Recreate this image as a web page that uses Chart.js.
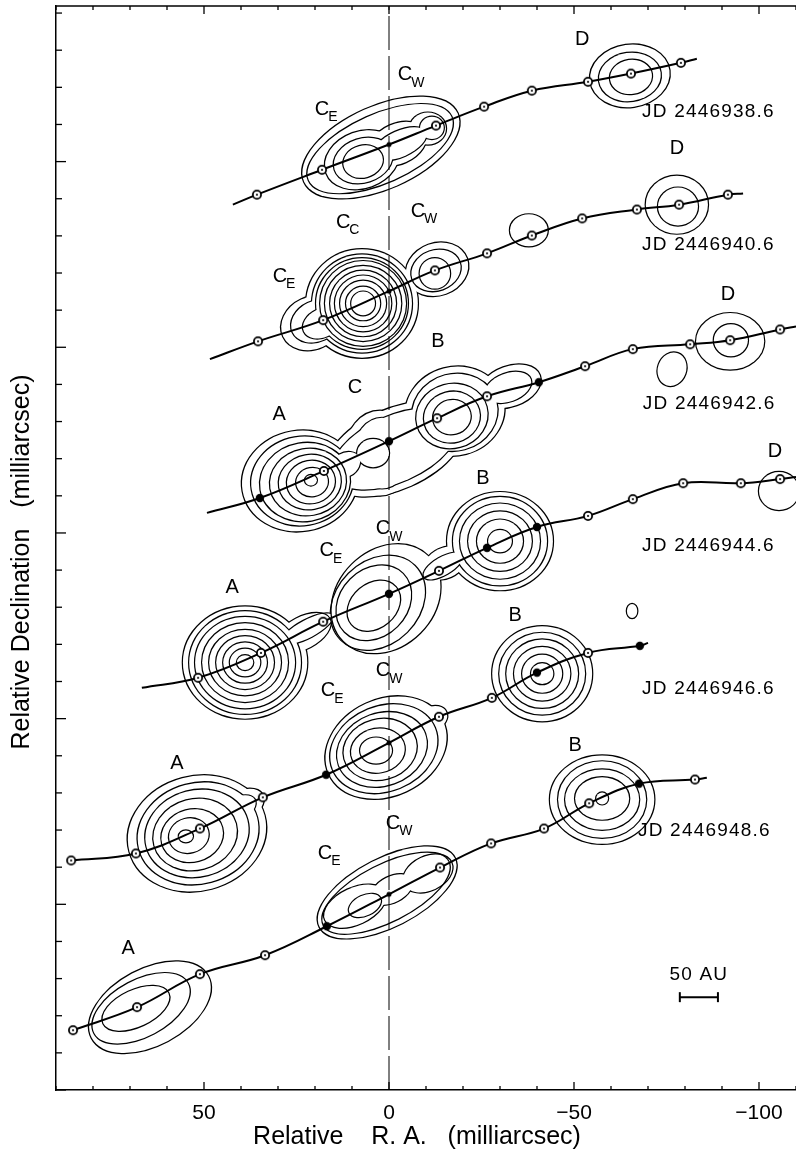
<!DOCTYPE html>
<html>
<head>
<meta charset="utf-8">
<title>VLBI maps of the jet, six epochs</title>
<script src="https://cdn.jsdelivr.net/npm/chart.js@4.4.1/dist/chart.umd.min.js"></script>
<style>
  html, body { margin: 0; padding: 0; background: #fff; overflow: hidden; }
  #box { width: 796px; height: 1151px; overflow: hidden; }
  #chart { display: block; }
</style>
</head>
<body>
<div id="box"><canvas id="chart" width="807" height="1151"></canvas></div>
<script>
const FONT = '"Liberation Sans", Arial, Helvetica, sans-serif';

// axis ranges (milliarcsec)
const raMin = -110, raMax = 90;
const decMin = 0, decMax = 291.9;

// kinematic model track of each epoch: R.A., Dec, marker ('o' ring, 'f' filled, 's' core dot, '' none)
const ra938 = [42.2, 35.7, 18.1, 0, -12.7, -25.7, -38.6, -53.8, -65.4, -78.9, -83.2];
const de938 = [238.4, 241.1, 247.8, 254.6, 259.7, 264.8, 269.1, 271.5, 273.7, 276.6, 277.7];
const mk938 = ['', 'o', 'o', 's', 'o', 'o', 'o', 'o', 'o', 'o', ''];

const ra940 = [48.4, 35.4, 17.8, 0, -12.4, -26.5, -38.6, -52.2, -67.0, -78.4, -91.6, -95.7];
const de940 = [196.8, 201.6, 207.3, 215.1, 220.7, 225.3, 230.1, 234.7, 237.1, 238.4, 241.1, 241.4];
const mk940 = ['', 'o', 'o', 's', 'o', 'o', 'o', 'o', 'o', 'o', 'o', ''];

const ra942 = [49.2, 34.9, 17.6, 0, -13.0, -26.5, -40.5, -53.0, -65.9, -81.4, -92.2, -105.7, -110];
const de942 = [155.4, 159.4, 166.7, 174.7, 180.9, 186.8, 190.6, 194.9, 199.5, 200.8, 201.9, 204.8, 205.6];
const mk942 = ['', 'f', 'o', 'f', 'o', 'o', 'f', 'o', 'o', 'o', 'o', 'o', ''];

const ra944 = [66.8, 51.6, 34.6, 17.8, 0, -13.5, -26.5, -40.0, -53.8, -65.9, -79.5, -95.1, -105.7, -110];
const de944 = [108.3, 111.0, 117.7, 126.1, 133.6, 139.8, 146.0, 151.6, 154.6, 159.1, 163.4, 163.4, 164.5, 165.1];
const mk944 = ['', 'o', 'o', 'o', 'f', 'o', 'f', 'f', 'o', 'o', 'o', 'o', 'o', ''];

const ra946 = [85.9, 68.4, 51.1, 34.1, 17.0, 0, -13.5, -27.8, -40.0, -53.8, -67.8, -70.0];
const de946 = [61.8, 63.7, 70.4, 78.8, 84.9, 93.5, 100.5, 105.6, 112.4, 117.7, 119.6, 120.4];
const mk946 = ['o', 'o', 'o', 'o', 'f', 's', 'o', 'o', 'f', 'o', 'f', ''];

const ra948 = [85.4, 68.1, 51.1, 33.5, 16.8, 0, -13.8, -27.6, -41.9, -54.1, -67.6, -82.7, -85.9];
const de948 = [16.1, 22.3, 31.2, 36.3, 44.1, 52.7, 59.9, 66.4, 70.4, 77.2, 82.5, 83.6, 84.1];
const mk948 = ['o', 'o', 'o', 'o', 'f', 's', 'o', 'o', 'o', 'o', 'f', 'o', ''];

// contour levels: [level id, R.A., Dec, semi-major, semi-minor (mas), tilt deg]
// pieces sharing a level id are merged into one contour
const cont938 = [
  [1, 2.2, 253.8, 22.7, 11.1, 24],
  [2, 2.4, 253.5, 21.1, 9.2, 24],
  [3, 7.3, 250.5, 10.3, 7.6, 20], [3, -10.5, 258.9, 4.9, 4.3, 0], [3, -2.4, 254.8, 8.1, 5.4, 24],
  [4, 7.0, 250.3, 8.1, 5.9, 18], [4, -11.6, 259.1, 3.2, 3.0, 0], [4, -3.0, 254.8, 7.6, 3.5, 24],
  [5, 7.0, 250.0, 5.4, 4.3, 15],
  [6, -65.1, 273.1, 10.8, 8.4, 8], [7, -65.1, 272.8, 8.4, 6.5, 8], [8, -65.4, 272.8, 5.7, 4.6, 8]
];
const cont940 = [
  [1, 7.3, 211.8, 15.1, 14.6, 0], [1, 20.8, 206.5, 8.6, 7.0, 25], [1, -13.0, 221.0, 8.6, 7.0, 20],
  [2, 7.3, 211.8, 13.5, 13.2, 0], [2, 19.7, 207.0, 7.0, 5.4, 25], [2, -12.7, 220.7, 6.8, 5.4, 20],
  [3, 7.3, 211.8, 12.4, 12.2, 0], [3, 18.1, 206.5, 5.4, 3.8, 25],
  [4, 7.0, 211.8, 11.6, 11.4, 0], [5, 7.0, 211.8, 10.3, 10.1, 0], [6, 7.0, 211.8, 8.9, 8.8, 0],
  [7, 7.0, 211.8, 7.6, 7.5, 0], [8, 7.0, 211.8, 6.2, 6.1, 0], [9, 7.0, 211.8, 4.6, 4.5, 0],
  [10, 7.0, 211.8, 3.2, 3.2, 0],
  [11, -12.4, 219.9, 4.1, 4.1, 0],
  [12, -37.8, 231.5, 5.1, 4.3, 0],
  [13, -77.8, 238.4, 8.4, 7.8, 0], [14, -78.1, 237.9, 5.4, 5.1, 0]
];
const cont942 = [
  [1, 24.1, 164.0, 15.7, 13.5, 10], [1, 2.4, 171.5, 9.5, 11.4, 0], [1, -17.8, 182.8, 13.5, 11.9, 15],
  [1, -32.7, 189.5, 8.6, 5.4, 20], [1, -1.6, 172.6, 20.0, 10.8, 24],
  [2, 23.5, 164.0, 13.8, 11.9, 10], [2, 1.9, 171.5, 7.6, 9.5, 0], [2, -17.8, 182.5, 11.6, 10.3, 15],
  [2, -32.2, 189.2, 6.5, 3.8, 20], [2, -1.6, 172.6, 18.0, 8.9, 24],
  [3, 22.7, 163.7, 12.2, 10.5, 10], [3, 11.9, 168.3, 4.3, 3.2, 30], [3, 4.3, 171.5, 4.3, 3.8, 0],
  [4, -17.0, 181.5, 9.7, 8.6, 15], [5, -17.0, 181.2, 7.6, 6.8, 15], [6, -17.0, 181.2, 5.1, 4.6, 15],
  [7, 21.9, 163.7, 10.3, 8.9, 10], [8, 21.4, 163.7, 8.4, 7.3, 10], [9, 21.1, 163.7, 6.5, 5.7, 10],
  [10, 20.8, 163.7, 4.3, 3.8, 10], [11, 21.1, 164.2, 1.6, 1.4, 0],
  [12, -92.2, 201.6, 9.2, 7.6, 0], [13, -92.4, 201.9, 4.6, 4.3, 0],
  [14, -76.5, 194.1, 4.6, 3.8, 70]
];
const cont944 = [
  [1, 38.9, 115.1, 16.8, 15.1, 0], [1, 23.2, 123.1, 8.1, 4.3, 28], [1, 0.8, 132.3, 16.2, 13.0, 45],
  [1, -15.1, 141.9, 5.9, 4.1, 25], [1, -30.0, 147.8, 14.3, 13.2, 0],
  [2, 38.9, 115.1, 15.1, 13.8, 0], [2, 22.0, 124.2, 7.6, 2.4, 28], [2, 3.0, 131.2, 14.1, 11.1, 45],
  [2, -14.6, 141.1, 5.9, 2.4, 30], [2, -30.0, 147.8, 12.7, 11.9, 0],
  [3, 4.1, 131.2, 11.1, 8.9, 45], [4, 4.1, 130.4, 7.8, 5.9, 40],
  [5, 38.9, 115.1, 13.5, 12.3, 0], [6, 38.9, 115.1, 11.6, 10.6, 0], [7, 38.9, 115.1, 9.7, 8.8, 0],
  [8, 38.9, 115.1, 7.8, 7.1, 0], [9, 38.9, 115.1, 5.9, 5.4, 0], [10, 38.9, 115.1, 4.1, 3.7, 0],
  [11, 38.9, 115.1, 2.2, 2.0, 0],
  [12, -30.0, 147.8, 10.8, 10.1, 0], [13, -30.0, 147.8, 8.6, 8.0, 0], [14, -30.0, 147.8, 6.2, 5.8, 0],
  [15, -30.0, 147.8, 3.2, 3.0, 0],
  [16, -65.7, 129.0, 1.4, 1.9, 0],
  [17, -105.4, 161.3, 5.4, 5.1, 0]
];
const cont946 = [
  [1, 51.9, 69.1, 18.9, 15.4, 15], [1, 40.8, 75.8, 7.6, 4.3, 30],
  [2, 51.6, 69.1, 16.5, 13.5, 15], [2, 41.4, 75.3, 5.9, 3.2, 30],
  [3, 51.9, 69.1, 14.1, 11.6, 15], [4, 52.4, 68.8, 11.4, 9.5, 15], [5, 53.2, 68.5, 8.4, 7.0, 15],
  [6, 54.1, 68.5, 5.4, 4.6, 15], [7, 54.9, 68.3, 1.9, 1.6, 0],
  [8, 0.8, 92.2, 17.0, 13.0, 25], [8, -11.6, 100.0, 4.3, 3.2, 25],
  [9, 1.4, 91.9, 14.9, 11.4, 22], [10, 1.9, 91.7, 12.4, 9.7, 20], [11, 2.4, 91.7, 10.0, 8.1, 15],
  [12, 3.0, 91.4, 7.3, 5.9, 10], [13, 3.5, 91.4, 4.3, 3.5, 0],
  [14, -41.4, 112.1, 13.5, 12.8, 0], [15, -41.4, 112.1, 11.6, 11.0, 0], [16, -41.4, 112.1, 9.7, 9.2, 0],
  [17, -41.4, 112.1, 7.6, 7.2, 0], [18, -41.4, 112.1, 5.4, 5.1, 0], [19, -41.4, 112.1, 3.0, 2.8, 0]
];
const cont948 = [
  [1, 64.6, 22.3, 17.8, 10.3, 28], [2, 67.0, 22.0, 14.3, 7.6, 28], [3, 68.4, 22.0, 9.7, 4.9, 25],
  [4, 0.5, 53.2, 20.5, 9.2, 27], [5, 0.8, 53.0, 18.9, 7.6, 27],
  [6, 9.2, 49.5, 8.9, 4.9, 25], [6, -10.5, 58.3, 7.0, 4.6, 25], [6, -0.8, 54.0, 5.9, 3.5, 27],
  [7, 6.5, 49.7, 4.6, 2.7, 25],
  [8, -57.6, 78.2, 14.1, 11.9, 0], [9, -57.6, 78.2, 11.9, 10.3, 0], [10, -57.6, 78.2, 10.0, 8.1, 0],
  [11, -57.6, 78.5, 7.3, 5.7, 0], [12, -57.6, 78.5, 1.6, 1.6, 0]
];

// component names: [letter, subscript, R.A., Dec]
const compLabels = [
  ['D', '', -52.2, 282.8], ['C', 'W', -4.3, 273.4], ['C', 'E', 18.1, 264.0],
  ['D', '', -77.8, 253.5], ['C', 'C', 12.4, 233.6], ['C', 'W', -7.8, 236.6], ['C', 'E', 29.5, 219.1],
  ['B', '', -13.2, 201.6], ['C', '', 9.2, 189.2], ['A', '', 29.7, 182.0], ['D', '', -91.6, 214.2],
  ['B', '', -25.4, 164.8], ['C', 'W', 1.6, 151.1], ['C', 'E', 16.8, 145.2], ['A', '', 42.4, 135.2], ['D', '', -104.3, 172.0],
  ['B', '', -34.1, 127.7], ['C', 'W', 1.6, 112.9], ['C', 'E', 16.5, 107.5], ['A', '', 57.3, 87.9],
  ['B', '', -50.3, 92.7], ['C', 'W', -1.1, 71.8], ['C', 'E', 17.3, 63.7], ['A', '', 70.5, 38.2]
];

// epoch labels
const jdText = ['JD 2446938.6', 'JD 2446940.6', 'JD 2446942.6', 'JD 2446944.6', 'JD 2446946.6', 'JD 2446948.6'];
const jdRA = [-68.4, -68.4, -68.6, -68.4, -68.4, -67.3];
const jdDec = [263.4, 227.7, 184.9, 146.5, 108.1, 69.9];

// 50 AU scale bar
const barRA = [-78.6, -88.9];
const barDec = 25.0;
const barText = '50 AU';
const barTextDec = 30.9;

const tracks = [
  [ra938, de938, mk938], [ra940, de940, mk940], [ra942, de942, mk942],
  [ra944, de944, mk944], [ra946, de946, mk946], [ra948, de948, mk948]
];
const contourSets = [cont938, cont940, cont942, cont944, cont946, cont948];

function markImage(kind) {
  const c = document.createElement('canvas');
  c.width = c.height = 14;
  const g = c.getContext('2d');
  g.beginPath();
  g.arc(7, 7, kind === 's' ? 2.5 : (kind === 'f' ? 4.2 : 4.1), 0, 2 * Math.PI);
  if (kind === 'o') {
    g.fillStyle = '#fff'; g.fill();
    g.lineWidth = 1.8; g.strokeStyle = '#000'; g.stroke();
    g.beginPath(); g.arc(7, 7, 1.1, 0, 2 * Math.PI);
    g.fillStyle = '#000'; g.fill();
  } else {
    g.fillStyle = '#000'; g.fill();
  }
  return c;
}
const marks = { o: markImage('o'), f: markImage('f'), s: markImage('s') };

const datasets = tracks.map(t => ({
  data: t[0].map((v, i) => ({ x: v, y: t[1][i] })),
  showLine: true,
  borderColor: '#000',
  borderWidth: 2,
  tension: 0.4,
  pointStyle: t[2].map(k => marks[k] || 'circle'),
  pointRadius: t[2].map(k => (k ? 4 : 0)),
  pointHoverRadius: 0
}));

// reference line at R.A. = 0
datasets.unshift({
  data: [{ x: 0, y: decMin }, { x: 0, y: decMax }],
  showLine: true,
  borderColor: '#000',
  borderWidth: 1,
  borderDash: [34, 6],
  pointRadius: 0
});

const contourPlugin = {
  id: 'contours',
  beforeDatasetsDraw(chart) {
    const { ctx, chartArea: a, scales: { x, y } } = chart;
    const kx = Math.abs(x.getPixelForValue(1) - x.getPixelForValue(0));
    const ky = Math.abs(y.getPixelForValue(1) - y.getPixelForValue(0));
    const off = document.createElement('canvas');
    off.width = chart.canvas.width;
    off.height = chart.canvas.height;
    const o = off.getContext('2d');
    const dpr = chart.currentDevicePixelRatio;
    const shape = e => {
      o.beginPath();
      o.ellipse(x.getPixelForValue(e[1]), y.getPixelForValue(e[2]), e[3] * kx, e[4] * ky,
        -e[5] * Math.PI / 180, 0, 2 * Math.PI);
    };
    ctx.save();
    ctx.beginPath();
    ctx.rect(a.left, a.top, a.right - a.left, a.bottom - a.top);
    ctx.clip();
    contourSets.forEach(set => {
      const levels = new Map();
      set.forEach(e => {
        if (!levels.has(e[0])) levels.set(e[0], []);
        levels.get(e[0]).push(e);
      });
      levels.forEach(parts => {
        o.setTransform(1, 0, 0, 1, 0, 0);
        o.clearRect(0, 0, off.width, off.height);
        o.setTransform(dpr, 0, 0, dpr, 0, 0);
        o.globalCompositeOperation = 'source-over';
        o.strokeStyle = '#000';
        o.lineWidth = 2.4;
        parts.forEach(e => { shape(e); o.stroke(); });
        o.globalCompositeOperation = 'destination-out';
        parts.forEach(e => { shape(e); o.fill(); });
        ctx.drawImage(off, 0, 0, chart.width, chart.height);
      });
    });
    ctx.restore();
  }
};

const decorPlugin = {
  id: 'decor',
  afterDraw(chart) {
    const { ctx, chartArea: a, scales: { x, y } } = chart;
    const seg = (x1, y1, x2, y2) => { ctx.beginPath(); ctx.moveTo(x1, y1); ctx.lineTo(x2, y2); ctx.stroke(); };
    ctx.save();
    ctx.strokeStyle = '#000';
    ctx.fillStyle = '#000';
    ctx.lineWidth = 1.3;
    seg(a.left, a.top, a.right, a.top);
    for (let v = Math.ceil(x.min / 10) * 10; v <= x.max; v += 10) {
      const p = x.getPixelForValue(v);
      const len = v % 50 === 0 ? 8 : 4;
      seg(p, a.bottom, p, a.bottom - len);
      seg(p, a.top, p, a.top + len);
    }
    for (let v = Math.ceil(y.min / 10) * 10; v <= y.max; v += 10) {
      const p = y.getPixelForValue(v);
      seg(a.left, p, a.left + (v % 50 === 0 ? 10 : 6), p);
    }

    // component names
    ctx.textBaseline = 'middle';
    compLabels.forEach(l => {
      const px = x.getPixelForValue(l[2]), py = y.getPixelForValue(l[3]);
      ctx.font = '20px ' + FONT;
      ctx.textAlign = 'center';
      ctx.fillText(l[0], px, py);
      if (l[1]) {
        const w = ctx.measureText(l[0]).width;
        ctx.font = '14px ' + FONT;
        ctx.textAlign = 'left';
        ctx.fillText(l[1], px + w / 2 - 1, py + 8);
      }
    });

    // epochs
    ctx.font = '19px ' + FONT;
    ctx.textAlign = 'left';
    if ('letterSpacing' in ctx) ctx.letterSpacing = '1.2px';
    jdText.forEach((t, i) => ctx.fillText(t, x.getPixelForValue(jdRA[i]), y.getPixelForValue(jdDec[i])));

    // scale bar
    const b1 = x.getPixelForValue(barRA[0]), b2 = x.getPixelForValue(barRA[1]), by = y.getPixelForValue(barDec);
    ctx.lineWidth = 2;
    seg(b1, by, b2, by);
    seg(b1, by - 5, b1, by + 5);
    seg(b2, by - 5, b2, by + 5);
    ctx.font = '19px ' + FONT;
    ctx.textAlign = 'center';
    ctx.fillText(barText, (b1 + b2) / 2, y.getPixelForValue(barTextDec));
    if ('letterSpacing' in ctx) ctx.letterSpacing = '0px';

    // axis titles
    ctx.font = '25px ' + FONT;
    ctx.textAlign = 'center';
    ctx.fillText('Relative    R. A.   (milliarcsec)', 417, 1137);
    ctx.translate(22, 562);
    ctx.rotate(-Math.PI / 2);
    ctx.fillText('Relative Declination   (milliarcsec)', 0, 0);
    ctx.restore();
  }
};

new Chart(document.getElementById('chart'), {
  type: 'scatter',
  data: { datasets: datasets },
  options: {
    responsive: false,
    animation: false,
    events: [],
    devicePixelRatio: 1,
    layout: { padding: { top: 4, left: 0, right: 0, bottom: 0 } },
    plugins: { legend: { display: false }, tooltip: { enabled: false } },
    scales: {
      x: {
        type: 'linear',
        reverse: true,
        min: raMin,
        max: raMax,
        grid: { display: false, drawTicks: false },
        border: { display: true, color: '#000', width: 1.5 },
        ticks: {
          stepSize: 10,
          autoSkip: false,
          maxRotation: 0,
          minRotation: 0,
          padding: 11,
          color: '#000',
          font: { family: FONT, size: 21 },
          callback: v => (v % 50 === 0 ? (v < 0 ? '\u2212' + (-v) : String(v)) : '')
        },
        afterFit: s => { s.height = 61; }
      },
      y: {
        type: 'linear',
        min: decMin,
        max: decMax,
        grid: { display: false, drawTicks: false },
        border: { display: true, color: '#000', width: 1.5 },
        ticks: { display: false },
        afterFit: s => { s.width = 56; }
      }
    }
  },
  plugins: [contourPlugin, decorPlugin]
});
</script>
</body>
</html>
